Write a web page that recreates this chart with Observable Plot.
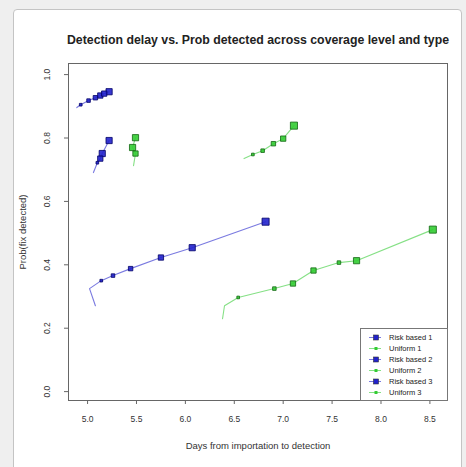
<!DOCTYPE html>
<html><head><meta charset="utf-8">
<script src="https://cdn.jsdelivr.net/npm/d3@7"></script>
<script src="https://cdn.jsdelivr.net/npm/@observablehq/plot@0.6"></script>
<style>
body{margin:0;background:#efefef;font-family:"Liberation Sans",Arial,sans-serif;}
#card{position:absolute;left:13px;top:9px;width:447px;height:470px;border:1.5px solid #c4c4c4;border-radius:4px;background:#fff;}
#chart{position:absolute;left:0;top:0;}
#legend{position:absolute;left:360px;top:328px;width:86px;height:71px;border:1px solid #777;background:#fff;font-size:7.5px;color:#222;}
#legend .row{position:absolute;left:0;height:11px;line-height:11px;}
#legend .sym{position:absolute;left:8px;top:0;width:12px;height:11px;}
#legend .txt{position:absolute;left:28px;top:0;white-space:nowrap;}
</style></head>
<body>
<div id="card"></div>
<div id="chart"></div>
<div id="legend"></div>
<script>
const title = "Detection delay vs. Prob detected across coverage level and type";
const xLabel = "Days from importation to detection";
const yLabel = "Prob(fix detected)";
const xTicks = [5.0, 5.5, 6.0, 6.5, 7.0, 7.5, 8.0, 8.5];
const yTicks = [0.0, 0.2, 0.4, 0.6, 0.8, 1.0];
const legendLabels = ["Risk based 1", "Uniform 1", "Risk based 2", "Uniform 2", "Risk based 3", "Uniform 3"];
const legendColors = ["#2222cc", "#33cc33", "#2222cc", "#33cc33", "#2222cc", "#33cc33"];

// series: blue = risk based, green = uniform
const blueLowDays = [5.08, 5.02, 5.14, 5.26, 5.44, 5.75, 6.07, 6.82];
const blueLowProb = [0.271, 0.325, 0.350, 0.366, 0.388, 0.423, 0.454, 0.536];
const blueLowSize = [0, 0, 1.5, 2, 2.5, 3, 3.5, 4];

const blueMidDays = [5.06, 5.10, 5.13, 5.15, 5.22];
const blueMidProb = [0.691, 0.722, 0.735, 0.751, 0.792];
const blueMidSize = [0, 1.5, 3, 3.5, 3.5];

const blueTopDays = [4.89, 4.93, 5.01, 5.08, 5.13, 5.17, 5.22];
const blueTopProb = [0.896, 0.905, 0.918, 0.927, 0.934, 0.940, 0.946];
const blueTopSize = [0, 1.5, 2, 2.5, 3, 3, 3.5];

const greenLowDays = [6.38, 6.40, 6.54, 6.91, 7.10, 7.31, 7.57, 7.75, 8.53];
const greenLowProb = [0.230, 0.271, 0.297, 0.325, 0.341, 0.382, 0.407, 0.413, 0.511];
const greenLowSize = [0, 0, 1.5, 2, 3, 3, 2, 3.5, 4];

const greenMidDays = [5.47, 5.49, 5.46, 5.49];
const greenMidProb = [0.713, 0.751, 0.770, 0.801];
const greenMidSize = [0, 3, 3.5, 3.5];

const greenHighDays = [6.60, 6.69, 6.79, 6.90, 7.00, 7.11];
const greenHighProb = [0.735, 0.748, 0.760, 0.782, 0.798, 0.839];
const greenHighSize = [0, 1.5, 2, 2.5, 3, 4];

const seriesDefs = [
  ["blueLow", "#2222cc", "#000066", blueLowDays, blueLowProb, blueLowSize],
  ["blueMid", "#2222cc", "#000066", blueMidDays, blueMidProb, blueMidSize],
  ["blueTop", "#2222cc", "#000066", blueTopDays, blueTopProb, blueTopSize],
  ["greenLow", "#33cc33", "#116611", greenLowDays, greenLowProb, greenLowSize],
  ["greenMid", "#33cc33", "#116611", greenMidDays, greenMidProb, greenMidSize],
  ["greenHigh", "#33cc33", "#116611", greenHighDays, greenHighProb, greenHighSize]
];
const data = [];
for (const [name, color, dark, xs, ys, ss] of seriesDefs) {
  xs.forEach((x, i) => data.push({series: name, color, dark, x, y: ys[i], s: ss[i]}));
}

const font = "Liberation Sans, Arial, sans-serif";
const chart = Plot.plot({
  width: 466, height: 467,
  marginLeft: 68, marginTop: 63, marginRight: 19, marginBottom: 67,
  style: {fontFamily: font, fontSize: "8.5px", background: "transparent", color: "#333"},
  x: {domain: [4.805, 8.68]},
  y: {domain: [-0.028, 1.035]},
  r: {type: "identity"},
  color: {type: "identity"},
  marks: [
    Plot.line(data, {x: "x", y: "y", z: "series", stroke: "color", strokeWidth: 1.1, strokeOpacity: 0.6}),
    Plot.dot(data.filter(d => d.s > 0), {x: "x", y: "y", r: "s", symbol: "square", fill: "color", stroke: "dark", strokeWidth: 0.8, fillOpacity: 0.9}),
    Plot.frame({stroke: "#666", strokeWidth: 1}),
    Plot.axisX({ticks: xTicks, tickFormat: d => d.toFixed(1), tickSize: 4, tickPadding: 11, label: null, stroke: "#666", fontSize: 8.5}),
    Plot.axisY({ticks: yTicks, tickFormat: () => "", tickSize: 4, label: null, stroke: "#666"}),
    Plot.text(yTicks, {y: d => d, frameAnchor: "left", dx: -21, rotate: -90, textAnchor: "middle", text: d => d.toFixed(1), fontSize: 8.5, fill: "#333"}),
    Plot.text([xLabel], {frameAnchor: "bottom", dy: 48, text: d => d, fontSize: 9.5, fill: "#333"}),
    Plot.text([yLabel], {frameAnchor: "left", dx: -46, rotate: -90, textAnchor: "middle", text: d => d, fontSize: 9.5, fill: "#333"}),
    Plot.text([title], {frameAnchor: "top", dy: -28, text: d => d, fontSize: 12.3, fontWeight: "bold", fill: "#222"})
  ]
});
document.getElementById("chart").appendChild(chart);

const leg = document.getElementById("legend");
legendLabels.forEach((lab, i) => {
  const row = document.createElement("div");
  row.className = "row";
  row.style.top = (3 + i * 11) + "px";
  const odd = i % 2 === 0;
  row.innerHTML = `<svg class="sym" width="14" height="11"><line x1="0" x2="14" y1="5.5" y2="5.5" stroke="${legendColors[i]}" stroke-opacity="0.6"/>${odd ? `<rect x="4.5" y="3" width="5" height="5" fill="${legendColors[i]}" stroke="#333" stroke-width="0.6"/>` : `<rect x="5.5" y="4" width="3" height="3" fill="${legendColors[i]}"/>`}</svg><span class="txt">${lab}</span>`;
  leg.appendChild(row);
});
</script>
</body></html>
